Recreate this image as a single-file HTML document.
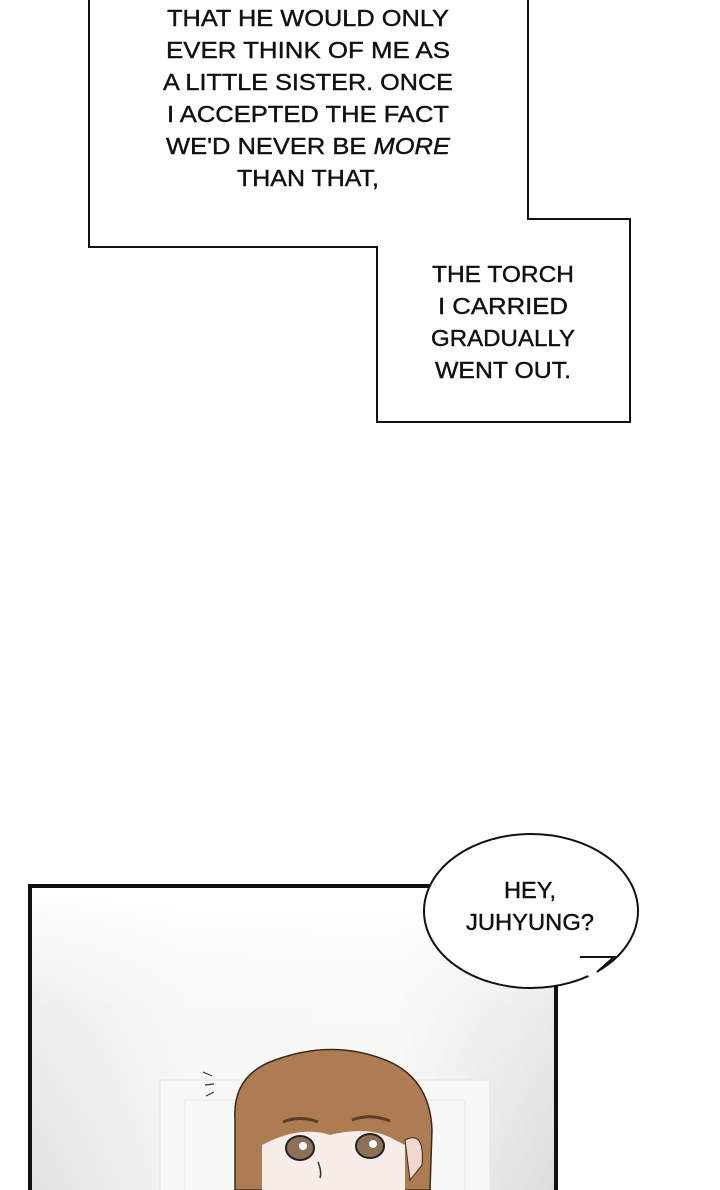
<!DOCTYPE html>
<html><head><meta charset="utf-8"><style>
html,body{margin:0;padding:0;background:#fff;}
svg{display:block}
text{font-family:"Liberation Sans",sans-serif;font-size:23px;fill:#111;text-anchor:middle;stroke:#111;stroke-width:0.4}
</style></head><body>
<svg width="720" height="1190" viewBox="0 0 720 1190" xmlns="http://www.w3.org/2000/svg">
<defs>
<linearGradient id="bg" x1="0" y1="0" x2="1" y2="0">
<stop offset="0" stop-color="#e2e2de"/><stop offset="0.3" stop-color="#f4f4f2"/><stop offset="0.7" stop-color="#f5f5f3"/><stop offset="1" stop-color="#dcdcd8"/>
</linearGradient>
<linearGradient id="bgv" x1="0" y1="0" x2="0" y2="1">
<stop offset="0" stop-color="#fff"/><stop offset="0.4" stop-color="#fff" stop-opacity="0.4"/><stop offset="1" stop-color="#fff" stop-opacity="0"/>
</linearGradient>
</defs>
<polygon points="89,-3 528,-3 528,219 630,219 630,422 377,422 377,247 89,247" fill="#fff" stroke="#111" stroke-width="2"/>
<g lengthAdjust="spacingAndGlyphs">
<text x="308" y="26" textLength="282" lengthAdjust="spacingAndGlyphs">THAT HE WOULD ONLY</text>
<text x="308" y="58" textLength="284" lengthAdjust="spacingAndGlyphs">EVER THINK OF ME AS</text>
<text x="308" y="90" textLength="290" lengthAdjust="spacingAndGlyphs">A LITTLE SISTER. ONCE</text>
<text x="308" y="122" textLength="282" lengthAdjust="spacingAndGlyphs">I ACCEPTED THE FACT</text>
<text x="308" y="154" textLength="284" lengthAdjust="spacingAndGlyphs">WE'D NEVER BE <tspan font-style="italic">MORE</tspan></text>
<text x="308" y="186" textLength="142" lengthAdjust="spacingAndGlyphs">THAN THAT,</text>
<text x="503" y="282" textLength="142" lengthAdjust="spacingAndGlyphs">THE TORCH</text>
<text x="503" y="314" textLength="130" lengthAdjust="spacingAndGlyphs">I CARRIED</text>
<text x="503" y="346" textLength="144" lengthAdjust="spacingAndGlyphs">GRADUALLY</text>
<text x="503" y="378" textLength="136" lengthAdjust="spacingAndGlyphs">WENT OUT.</text>
</g>

<rect x="30" y="886" width="526" height="310" fill="url(#bg)" stroke="#111" stroke-width="4"/>
<rect x="32" y="888" width="522" height="302" fill="url(#bgv)"/>
<rect x="160" y="1080" width="330" height="120" fill="#f7f7f5" stroke="#e6e6e3" stroke-width="1"/>
<rect x="185" y="1100" width="280" height="100" fill="#f8f8f6" stroke="#e8e8e5"/>
<!-- character -->
<path d="M235,1190 L235,1120 Q232,1075 275,1060 Q330,1040 380,1058 Q430,1075 432,1130 L430,1190 Z" fill="#ad7c52" stroke="#3a2a1e" stroke-width="1.5"/>
<path d="M262,1190 L262,1145 Q300,1125 330,1135 Q370,1125 395,1140 L405,1145 L405,1190 Z" fill="#f8ede8"/>
<path d="M405,1140 Q425,1130 422,1165 L410,1180 Z" fill="#f1d8cf" stroke="#3a2a1e"/>
<ellipse cx="300" cy="1148" rx="14" ry="12" fill="#8d7058" stroke="#222" stroke-width="2"/>
<ellipse cx="370" cy="1146" rx="14" ry="12" fill="#8d7058" stroke="#222" stroke-width="2"/>
<circle cx="303" cy="1146" r="4" fill="#fff"/><circle cx="373" cy="1144" r="4" fill="#fff"/>
<path d="M283,1122 Q300,1115 318,1122 M352,1120 Q370,1113 390,1121" stroke="#5a3e28" stroke-width="3" fill="none"/>
<path d="M318,1162 Q322,1172 320,1178" stroke="#333" stroke-width="1.5" fill="none"/>
<path d="M203,1072 l9,4 M205,1085 l9,-1 M206,1096 l8,-4" stroke="#333" stroke-width="1.2"/>

<!-- bubble -->
<ellipse cx="531" cy="911" rx="107" ry="77" fill="#fff" stroke="#111" stroke-width="2"/>
<polygon points="577,962 581,956 601,958 614,957 604,965 598,972 590,978" fill="#fff"/>
<path d="M580,957 L614,957 L597,972" fill="none" stroke="#111" stroke-width="2"/>
<text x="530" y="898" textLength="52" lengthAdjust="spacingAndGlyphs">HEY,</text>
<text x="530" y="930" textLength="128" lengthAdjust="spacingAndGlyphs">JUHYUNG?</text>
</svg>
</body></html>
